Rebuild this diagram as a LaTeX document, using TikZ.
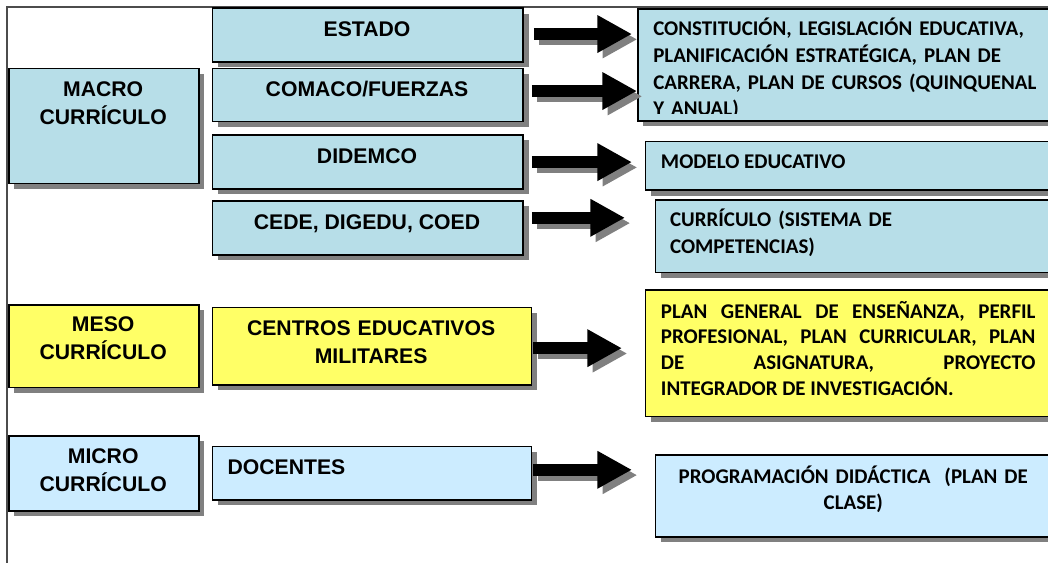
\documentclass[tikz,border=0pt]{standalone}
\usepackage{fontspec}
\usepackage{tikz}
\usetikzlibrary{arrows.meta,calc,shadows}
\newfontfamily\arialfont{Liberation Sans}
\newfontfamily\calibrifont{Carlito}
\definecolor{macroteal}{RGB}{183,222,232}
\definecolor{mesoyellow}{RGB}{255,255,102}
\definecolor{microblue}{RGB}{204,236,255}
\definecolor{shadowgray}{RGB}{128,128,128}

\tikzset{
  cbox/.style={draw=black, line width=1.2pt, inner sep=0pt, anchor=north west,
    drop shadow={shadow xshift=4pt, shadow yshift=-4pt, fill=shadowgray, opacity=1}},
  atext/.style={inner sep=0pt, font=\arialfont\bfseries\fontsize{15.9pt}{21.2pt}\selectfont},
  ctext/.style={inner sep=0pt, font=\calibrifont\bfseries\fontsize{15.7pt}{20pt}\selectfont},
  blockarrow/.style={line width=8.6pt, -{Triangle[length=26pt,width=26.5pt]}},
  arrowshadow/.style={blockarrow, draw=shadowgray, transform canvas={xshift=4pt,yshift=-4pt}}
}

\begin{document}
\begin{tikzpicture}[x=0.75pt,y=0.75pt,yscale=-1,xscale=1]
\useasboundingbox (0,0) rectangle (1048,563);

%Frame lines
\draw [color=black!70, line width=0.9pt] (1048,7) -- (7,7) -- (7,563);

%Shape: Rectangles, left column
\node [cbox, fill=macroteal, minimum width=142.7pt, minimum height=86.3pt] (macro) at (8,67.7) {};
\node [cbox, fill=mesoyellow, minimum width=142.7pt, minimum height=62pt] (meso) at (8,304) {};
\node [cbox, fill=microblue, minimum width=142.7pt, minimum height=56.3pt] (micro) at (8,435) {};
%Shape: Rectangles, middle column
\node [cbox, fill=macroteal, minimum width=233pt, minimum height=40.1pt] (estado) at (211.7,7.5) {};
\node [cbox, fill=macroteal, minimum width=233pt, minimum height=39.8pt] (comaco) at (211.7,67.7) {};
\node [cbox, fill=macroteal, minimum width=233pt, minimum height=40.5pt] (didemco) at (211.7,134.3) {};
\node [cbox, fill=macroteal, minimum width=233pt, minimum height=40.5pt] (cede) at (211.7,200) {};
\node [cbox, fill=mesoyellow, minimum width=239.1pt, minimum height=58pt] (centros) at (211.7,306.7) {};
\node [cbox, fill=microblue, minimum width=239.1pt, minimum height=40.2pt] (docentes) at (211.7,445.7) {};
%Shape: Rectangles, right column
\node [cbox, fill=macroteal, minimum width=324.8pt, minimum height=84pt] (constit) at (637,8) {};
\node [cbox, fill=macroteal, minimum width=319pt, minimum height=36.5pt] (modelo) at (644.6,140.7) {};
\node [cbox, fill=macroteal, minimum width=311.5pt, minimum height=54.3pt] (curric) at (654.7,199.3) {};
\node [cbox, fill=mesoyellow, minimum width=319pt, minimum height=94.7pt] (plan) at (644.6,289.3) {};
\node [cbox, fill=microblue, minimum width=298pt, minimum height=61.5pt] (progr) at (654.7,454) {};

%Block Arrows
\draw [arrowshadow] ($(estado.east)+(10,-1)$) -- ($(estado.east -| constit.west)+(-5,-1)$);
\draw [blockarrow] ($(estado.east)+(10,-1)$) -- ($(estado.east -| constit.west)+(-5,-1)$);
\draw [arrowshadow] ($(comaco.east)+(8,-4)$) -- ($(comaco.east -| constit.west)+(0,-4)$);
\draw [blockarrow] ($(comaco.east)+(8,-4)$) -- ($(comaco.east -| constit.west)+(0,-4)$);
\draw [arrowshadow] ($(didemco.east)+(8,0)$) -- ($(didemco.east -| modelo.west)+(-12.6,0)$);
\draw [blockarrow] ($(didemco.east)+(8,0)$) -- ($(didemco.east -| modelo.west)+(-12.6,0)$);
\draw [arrowshadow] ($(cede.east)+(8,-10)$) -- ($(cede.east -| curric.west)+(-29.7,-10)$);
\draw [blockarrow] ($(cede.east)+(8,-10)$) -- ($(cede.east -| curric.west)+(-29.7,-10)$);
\draw [arrowshadow] ($(centros.east)+(1,2)$) -- ($(centros.east -| plan.west)+(-22.6,2)$);
\draw [blockarrow] ($(centros.east)+(1,2)$) -- ($(centros.east -| plan.west)+(-22.6,2)$);
\draw [arrowshadow] ($(docentes.east)+(1,-3.5)$) -- ($(docentes.east -| progr.west)+(-22.7,-3.5)$);
\draw [blockarrow] ($(docentes.east)+(1,-3.5)$) -- ($(docentes.east -| progr.west)+(-22.7,-3.5)$);

% Text Node
\node [atext, anchor=base, text width=135pt, align=center] (macroT) at (103.2,96.7) {MACRO\\CURRÍCULO};
% Text Node
\node [atext, anchor=base, text width=135pt, align=center] (mesoT) at (103.2,331.7) {MESO\\CURRÍCULO};
% Text Node
\node [atext, anchor=base, text width=135pt, align=center] (microT) at (103.2,463.3) {MICRO\\CURRÍCULO};
% Text Node
\node [atext, anchor=base] (estadoT) at (367,36.7) {ESTADO};
% Text Node
\node [atext, anchor=base] (comacoT) at (367,96.7) {COMACO/FUERZAS};
% Text Node
\node [atext, anchor=base] (didemcoT) at (367,163.3) {DIDEMCO};
% Text Node
\node [atext, anchor=base] (cedeT) at (367,229.3) {CEDE, DIGEDU, COED};
% Text Node
\node [atext, anchor=base, text width=225pt, align=center] (centrosT) at (371.1,335) {CENTROS EDUCATIVOS\\MILITARES};
% Text Node
\node [atext, anchor=base west] (docentesT) at (227.3,474) {DOCENTES};

% Text Node
\begin{scope}
\clip (constit.north west) rectangle ($(constit.south east)+(0,-8)$);
\node [ctext, anchor=base west, text width=300pt, align=left] (constitT) at (653,36) {CONSTITUCIÓN, LEGISLACIÓN EDUCATIVA,\\PLANIFICACIÓN ESTRATÉGICA, PLAN DE\\CARRERA, PLAN DE CURSOS (QUINQUENAL\\Y ANUAL)};
\end{scope}
% Text Node
\node [ctext, anchor=base west] (modeloT) at (660.7,168.3) {MODELO EDUCATIVO};
% Text Node
\node [ctext, anchor=base west, text width=300pt, align=left] (curricT) at (669.8,226.7) {CURRÍCULO (SISTEMA DE\\COMPETENCIAS)};
% Text Node
\node [ctext, anchor=base west, text width=280.9pt, align=justify, execute at begin node={\tolerance=10000\hbadness=10000\baselineskip=19.2pt}] (planT) at (660.7,318.3) {PLAN GENERAL DE ENSEÑANZA, PERFIL\linebreak PROFESIONAL, PLAN CURRICULAR, PLAN\linebreak DE ASIGNATURA, PROYECTO\linebreak INTEGRADOR DE INVESTIGACIÓN.};
% Text Node
\node [ctext, anchor=base, text width=298pt, align=center] (progrT) at (853.3,483.3) {PROGRAMACIÓN DIDÁCTICA\ \ (PLAN DE\\CLASE)};

\end{tikzpicture}
\end{document}
